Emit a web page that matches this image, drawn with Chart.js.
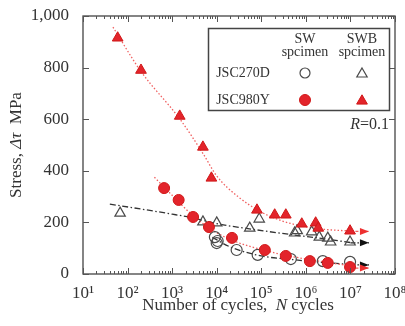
<!DOCTYPE html>
<html><head><meta charset="utf-8">
<script src="https://cdn.jsdelivr.net/npm/chart.js@4.4.1/dist/chart.umd.min.js"></script>
<style>html,body{margin:0;padding:0;background:#fff;}</style>
</head><body>
<canvas id="c" width="405" height="326"></canvas>
<script>
// ---- data ----
const xTickValues = [1e1, 1e2, 1e3, 1e4, 1e5, 1e6, 1e7, 1e8];
const xTickLabels = ['10\u00B9','10\u00B2','10\u00B3','10\u2074','10\u2075','10\u2076','10\u2077','10\u2078'];
const yTickValues = [0, 200, 400, 600, 800, 1000];

// JSC980Y, SWB specimen (filled triangles)
const redSwbN = [60, 200, 1480, 4900, 7600, 80000, 200000, 355000, 810000, 1660000, 1900000, 9800000];
const redSwbS = [915, 790, 612, 492, 372, 248, 229, 229, 194, 198, 178, 167];
// JSC270D, SWB specimen (open triangles)
const blkSwbN = [68, 4900, 10000, 55000, 90000, 560000, 640000, 1350000, 2000000, 3100000, 3600000, 9800000];
const blkSwbS = [236, 202, 198, 178, 213, 159, 168, 163, 143, 139, 124, 124];
// JSC980Y, SW specimen (filled circles)
const redSwN = [660, 1400, 2950, 6700, 22000, 120000, 355000, 1230000, 3100000, 9800000];
const redSwS = [333, 287, 221, 182, 140, 93, 70, 50, 43, 27];
// JSC270D, SW specimen (open circles)
const blkSwN = [9100, 10000, 10500, 28000, 83000, 460000, 2400000, 9800000];
const blkSwS = [143, 120, 128, 93, 74, 58, 50, 47];

// fitted S-N curves
const fitRedSwbN = [47, 200, 1500, 5000, 10000, 30000, 100000, 300000, 1000000, 3000000, 10000000];
const fitRedSwbS = [957, 785, 600, 465, 380, 300, 240, 205, 183, 172, 167];
const fitRedSwN = [400, 1000, 3000, 10000, 30000, 100000, 300000, 1000000, 3000000, 10000000];
const fitRedSwS = [375, 305, 225, 160, 122, 95, 75, 58, 45, 32];
const fitBlkSwbN = [40, 1000, 3000, 10000, 50000, 500000, 3000000, 10000000];
const fitBlkSwbS = [271, 232, 217, 195, 176, 152, 135, 122];
const fitBlkSwN = [8000, 20000, 100000, 500000, 2000000, 10000000];
const fitBlkSwS = [142, 105, 70, 56, 46, 37];

// run-out arrows
const runoutN = [10000000, 26000000];
const runRedSwbS = [165, 165];
const runBlkSwbS = [121, 121];
const runBlkSwS = [35, 35];
const runRedSwS = [23, 23];

const pts = (xs, ys) => xs.map((x, i) => ({x: x, y: ys[i]}));
const RED = '#e3242b';
const REDLINE = '#f06060';
const GREY = '#4a4a4a';
const SERIF = '"Liberation Serif", "DejaVu Serif", serif';

function lineDs(xs, ys, color, dash, arrow) {
  return {data: pts(xs, ys), showLine: true, borderColor: color, borderWidth: 1.3,
    borderDash: dash, pointRadius: 0, fill: false, cubicInterpolationMode: 'monotone',
    order: 5, arrow: !!arrow};
}
const DOT = [1.5, 2];
const DASHDOT = [6, 2.5, 1.5, 2.5];

const datasets = [
  lineDs(fitRedSwbN, fitRedSwbS, REDLINE, DOT),
  lineDs(fitRedSwN, fitRedSwS, REDLINE, DOT),
  lineDs(fitBlkSwbN, fitBlkSwbS, '#333', DASHDOT),
  lineDs(fitBlkSwN, fitBlkSwS, '#333', DASHDOT),
  lineDs(runoutN, runRedSwbS, REDLINE, [3, 2], true),
  lineDs(runoutN, runBlkSwbS, '#222', [5, 2, 1.5, 2], true),
  lineDs(runoutN, runBlkSwS, '#222', [5, 2, 1.5, 2], true),
  lineDs(runoutN, runRedSwS, REDLINE, [3, 2], true),
  {data: pts(blkSwbN, blkSwbS), pointStyle: 'triangle', pointRadius: 6, borderWidth: 1.2,
    pointBorderColor: GREY, pointBackgroundColor: 'rgba(255,255,255,0)', showLine: false, order: 1},
  {data: pts(blkSwN, blkSwS), pointStyle: 'circle', pointRadius: 5.5, borderWidth: 1.2,
    pointBorderColor: GREY, pointBackgroundColor: 'rgba(255,255,255,0)', showLine: false, order: 1},
  {data: pts(redSwN, redSwS), pointStyle: 'circle', pointRadius: 5.5, borderWidth: 1,
    pointBorderColor: '#d01818', pointBackgroundColor: RED, showLine: false, order: 0},
  {data: pts(redSwbN, redSwbS), pointStyle: 'triangle', pointRadius: 6.2, borderWidth: 1,
    pointBorderColor: '#d01818', pointBackgroundColor: RED, showLine: false, order: 0},
];

function drawMarker(ctx, style, x, y, r, fill, stroke, lw) {
  ctx.save();
  ctx.beginPath();
  if (style === 'circle') {
    ctx.arc(x, y, r, 0, Math.PI * 2);
  } else {
    ctx.moveTo(x, y - r);
    ctx.lineTo(x + r * 0.866, y + r * 0.5);
    ctx.lineTo(x - r * 0.866, y + r * 0.5);
    ctx.closePath();
  }
  if (fill) { ctx.fillStyle = fill; ctx.fill(); }
  ctx.lineWidth = lw; ctx.strokeStyle = stroke; ctx.stroke();
  ctx.restore();
}

function drawRich(ctx, parts, cx, cy, align) {
  let total = 0;
  parts.forEach(p => { ctx.font = p.f; p.w = ctx.measureText(p.t).width; total += p.w; });
  let x = align === 'right' ? cx - total : cx - total / 2;
  ctx.textAlign = 'left';
  ctx.textBaseline = 'middle';
  parts.forEach(p => { ctx.font = p.f; ctx.fillText(p.t, x, cy); x += p.w; });
}

const decor = {
  id: 'decor',
  afterDatasetsDraw(chart) {
    const ctx = chart.ctx;
    const xs = chart.scales.x, ys = chart.scales.y;
    const a = chart.chartArea;
    // run-out arrowheads
    chart.data.datasets.forEach((ds, i) => {
      if (!ds.arrow) return;
      const d = ds.data[ds.data.length - 1];
      const px = xs.getPixelForValue(d.x), py = ys.getPixelForValue(d.y);
      ctx.save();
      ctx.fillStyle = ds.borderColor === REDLINE ? '#ee3030' : '#111';
      ctx.beginPath();
      ctx.moveTo(px, py);
      ctx.lineTo(px - 9, py - 3.5);
      ctx.lineTo(px - 9, py + 3.5);
      ctx.closePath();
      ctx.fill();
      ctx.restore();
    });
    // frame
    ctx.save();
    ctx.strokeStyle = '#444';
    ctx.lineWidth = 1.3;
    ctx.strokeRect(a.left, a.top, a.right - a.left, a.bottom - a.top);
    ctx.lineWidth = 1;
    ctx.strokeStyle = '#555';
    ctx.beginPath();
    // y ticks (inward, both sides)
    yTickValues.forEach(v => {
      const py = Math.round(ys.getPixelForValue(v)) + 0.5;
      ctx.moveTo(a.left, py); ctx.lineTo(a.left + 6, py);
      ctx.moveTo(a.right, py); ctx.lineTo(a.right - 6, py);
    });
    // x ticks (log, inward, top and bottom)
    xTickValues.forEach((dec, di) => {
      for (let k = 1; k <= 9; k++) {
        const v = dec * k;
        if (v > 1e8) break;
        const px = Math.round(xs.getPixelForValue(v)) + 0.5;
        const len = k === 1 ? 6 : 3;
        ctx.moveTo(px, a.bottom); ctx.lineTo(px, a.bottom - len);
        ctx.moveTo(px, a.top); ctx.lineTo(px, a.top + len);
      }
    });
    ctx.stroke();
    ctx.restore();
  },
  afterDraw(chart) {
    const ctx = chart.ctx;
    const a = chart.chartArea;
    ctx.save();
    ctx.fillStyle = '#333';
    // axis titles
    const f = '17px ' + SERIF, fi = 'italic 17px ' + SERIF;
    ctx.save();
    ctx.translate(17, (a.top + a.bottom) / 2);
    ctx.rotate(-Math.PI / 2);
    drawRich(ctx, [{t: 'Stress, ', f: f}, {t: '\u0394\u03C4', f: fi}, {t: '  MPa', f: f}], 0, 0);
    ctx.restore();
    drawRich(ctx, [{t: 'Number of cycles,  ', f: f}, {t: 'N', f: fi}, {t: ' cycles', f: f}], 238, 306);
    // legend box
    ctx.strokeStyle = '#444';
    ctx.lineWidth = 1.5;
    ctx.strokeRect(208.5, 28.5, 181, 82);
    const lf = '14px ' + SERIF;
    ctx.font = lf; ctx.textAlign = 'center'; ctx.textBaseline = 'middle';
    ctx.fillText('SW', 305, 39);
    ctx.fillText('spcimen', 305, 52);
    ctx.fillText('SWB', 362, 39);
    ctx.fillText('spcimen', 362, 52);
    ctx.fillText('JSC270D', 243, 73);
    ctx.fillText('JSC980Y', 243, 100);
    drawMarker(ctx, 'circle', 305, 73, 5, null, GREY, 1.2);
    drawMarker(ctx, 'triangle', 362, 74, 6, null, GREY, 1.2);
    drawMarker(ctx, 'circle', 305, 100, 5.5, RED, '#d01818', 1);
    drawMarker(ctx, 'triangle', 362, 101, 6.2, RED, '#d01818', 1);
    // R = 0.1
    drawRich(ctx, [{t: 'R', f: 'italic 16px ' + SERIF}, {t: '=0.1', f: '16px ' + SERIF}], 389, 125, 'right');
    ctx.restore();
  }
};

new Chart(document.getElementById('c'), {
  type: 'scatter',
  data: {datasets: datasets},
  options: {
    responsive: false,
    devicePixelRatio: 1,
    animation: false,
    layout: {padding: {top: 16, right: 10, left: 0, bottom: 0}},
    plugins: {legend: {display: false}, tooltip: {enabled: false}},
    scales: {
      x: {
        type: 'logarithmic', min: 10, max: 1e8,
        afterBuildTicks: s => { s.ticks = xTickValues.map(v => ({value: v})); },
        afterFit: s => { s.height = 52; s.paddingLeft = 0; s.paddingRight = 0; },
        grid: {display: false}, border: {display: false},
        ticks: {
          autoSkip: false, maxRotation: 0, padding: 1, color: '#333',
          font: {family: SERIF, size: 17},
          callback: (v) => { const i = xTickValues.indexOf(v); return i >= 0 ? xTickLabels[i] : ''; }
        }
      },
      y: {
        min: 0, max: 1000,
        afterBuildTicks: s => { s.ticks = yTickValues.map(v => ({value: v})); },
        afterFit: s => { s.width = 83; s.paddingTop = 0; s.paddingBottom = 0; },
        grid: {display: false}, border: {display: false},
        ticks: {
          padding: 6, color: '#333',
          font: {family: SERIF, size: 17},
          callback: v => v.toLocaleString('en-US')
        }
      }
    }
  },
  plugins: [decor]
});
</script>
</body></html>
